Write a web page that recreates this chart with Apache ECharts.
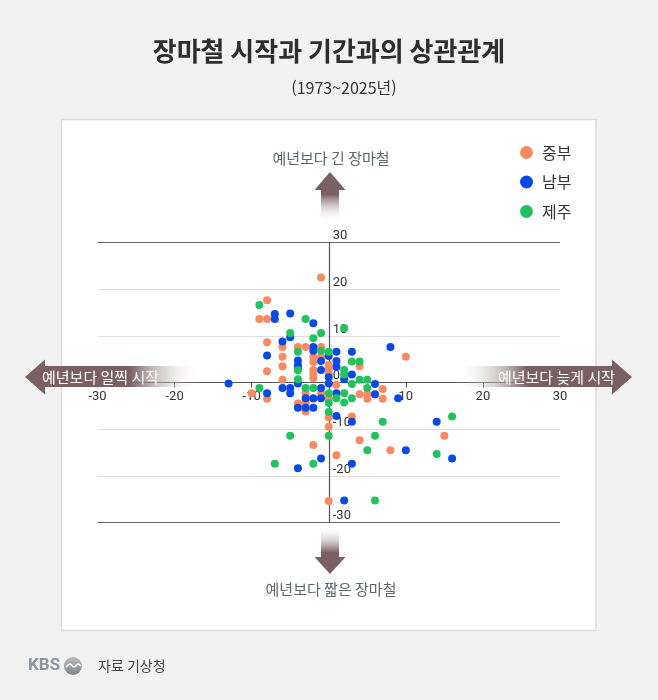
<!DOCTYPE html>
<html lang="ko">
<head>
<meta charset="utf-8">
<title>장마철 시작과 기간과의 상관관계</title>
<script src="https://cdn.jsdelivr.net/npm/echarts@6/dist/echarts.min.js"></script>
<style>
  html, body { margin: 0; padding: 0; background: #f2f2f2; }
  #chart { width: 658px; height: 700px; }
</style>
</head>
<body>
<div id="chart"></div>
<script>
var KR = '"Noto Sans CJK KR", "Noto Sans", sans-serif';
var NUM = '"Liberation Sans Narrow", Roboto, sans-serif';

// x: 장마 시작일 차이(일), y: 장마 기간 차이(일)
var seriesNames = ['중부', '남부', '제주'];
var seriesColors = ['#fa8a61', '#0b49e6', '#22c35f'];
var axisTicks = [-30, -20, -10, 0, 10, 20, 30];

var central = [
  [-1, 22.5], [-8, 17.6], [-9, 13.6], [-8, 13.6], [-8, 8.6], [-6, 7.6], [-4, 7.6], [-3, 7.6],
  [-1, 7.6], [-6, 5.5], [-2, 5.5], [-1, 5.5], [-2, 4.4], [-6, 3.5], [-8, 2.4], [-2, 2.7],
  [-2, 1.9], [-2, 0.9], [-6, 0.6], [0, 3.8], [0, 2.7], [0, 1.8], [-1, -2.3], [-10, -2.3],
  [-8, -3.5], [-3, -2.3], [-4, -4.5], [-3, -4.5], [-3, -6.2], [-2, -3.5], [0, -3.5], [0, -7.5],
  [0, -9.5], [1, -0.5], [4, 3.5], [10, 5.5], [4, -2.5], [5, -2.5], [6, -2.5], [7, -1.4],
  [7, -3.5], [5, -3.5], [3, -7.3], [15, -11.4], [-2, -13.4], [4, -12.4], [8, -14.5], [1, -15.6],
  [0, -25.4]
];
var south = [
  [-7, 14.7], [-7, 13.6], [-5, 14.8], [-2, 12.7], [-5, 9.7], [-6, 8.8], [-2, 7.6], [-2, 6.8],
  [-8, 5.8], [-4, 4.7], [-4, 3.7], [-4, 2.9], [-1, 4.6], [-1, 2.7], [0, 5.7], [1, 6.6],
  [3, 6.6], [8, 7.6], [1, 4.6], [1, 3.4], [3, 1.7], [2, 0.7], [0, 1.1], [0, -0.2],
  [-4, -0.2], [-13, -0.2], [-6, -1.2], [-5, -1.2], [-5, -2.3], [-8, -2.3], [-1, -1.2], [-3, -3.4],
  [-2, -3.4], [-1, -3.4], [-4, -5.4], [-3, -5.4], [-2, -5.4], [1, -2.3], [6, -0.3], [6, -2.5],
  [9, -3.4], [1, -7.2], [3, -8.4], [14, -8.4], [10, -14.5], [16, -16.3], [-1, -16.3], [3, -17.4],
  [-4, -18.4], [2, -25.3]
];
var jeju = [
  [-9, 16.6], [-3, 13.6], [-5, 10.6], [-2, 9.5], [-1, 10.6], [2, 11.6], [-4, 6.6], [-1, 6.8],
  [0, 6.6], [-4, 2.6], [-4, 0.7], [-9, -1.2], [-3, -1.2], [-2, -1.2], [2, 2.7], [2, 1.7],
  [3, 4.5], [4, 4.5], [3, -0.3], [4, 0.6], [5, 0.6], [5, -1.2], [0, -2.3], [1, -3.4],
  [3, -3.4], [2, -2.3], [2, -4.3], [0, -4.4], [0, -6.3], [0, -11.4], [7, -8.4], [16, -7.3],
  [-5, -11.4], [6, -11.4], [5, -14.5], [14, -15.3], [-2, -17.4], [-7, -17.4], [6, -25.3]
];
var seriesData = [central, south, jeju];

var GRID = { left: 97.5, right: 98, top: 242.5, bottom: 177.5 };
var gridW = 658 - GRID.left - GRID.right;
var gridH = 700 - GRID.top - GRID.bottom;

var ARROW = '#7b6062';
var FADE = 'rgba(255,255,255,0)';

function grad(x0, y0, x1, y1, solidTo) {
  return new echarts.graphic.LinearGradient(x0, y0, x1, y1, [
    { offset: 0, color: ARROW },
    { offset: solidTo, color: ARROW },
    { offset: 1, color: FADE }
  ]);
}

function label(text, x, y, font, fill, align) {
  return {
    type: 'text', z: 20,
    style: { text: text, x: x, y: y, font: font, fill: fill,
      textAlign: align || 'center', textVerticalAlign: 'middle' }
  };
}

var chart = echarts.init(document.getElementById('chart'));

chart.setOption({
  backgroundColor: '#f2f2f2',
  animation: false,
  grid: GRID,
  legend: {
    data: seriesNames,
    orient: 'vertical',
    left: 515, top: 139,
    icon: 'circle',
    itemWidth: 13, itemHeight: 13,
    itemGap: 12.5,
    textStyle: { fontFamily: KR, fontSize: 16, color: '#333', lineHeight: 17, padding: [0, 0, 0, 4] }
  },
  xAxis: {
    type: 'value',
    min: axisTicks[0], max: axisTicks[axisTicks.length - 1], interval: 10,
    position: 'bottom',
    offset: -gridH / 2,
    axisLine: { onZero: false, lineStyle: { color: '#555', width: 1.2 } },
    axisTick: { show: true, length: 5, lineStyle: { color: '#555' } },
    axisLabel: {
      margin: 8, fontFamily: NUM, fontSize: 13, color: '#333',
      formatter: function (v) { return v === 0 ? '' : String(v); }
    },
    splitLine: { show: false }
  },
  yAxis: {
    type: 'value',
    min: axisTicks[0], max: axisTicks[axisTicks.length - 1], interval: 10,
    position: 'left',
    offset: -gridW / 2,
    axisLine: { onZero: false, lineStyle: { color: '#555', width: 1.2 } },
    axisTick: { show: false },
    axisLabel: {
      inside: true, margin: 4, verticalAlign: 'bottom',
      fontFamily: NUM, fontSize: 13, color: '#333'
    },
    splitLine: {
      show: true,
      lineStyle: { width: 1.2, color: ['#666', '#dedede', '#dedede', '#dedede', '#dedede', '#dedede', '#666'] }
    }
  },
  series: seriesNames.map(function (name, i) {
    return {
      name: name, type: 'scatter', symbol: 'circle', symbolSize: 8,
      itemStyle: { color: seriesColors[i], opacity: 1 },
      data: seriesData[i]
    };
  }),
  graphic: [
    // 흰 패널
    { type: 'rect', z: -10, silent: true,
      shape: { x: 61.5, y: 119.5, width: 534.5, height: 511 },
      style: { fill: '#fff', stroke: '#dcdcdc', lineWidth: 1.5 } },
    // 제목
    label('장마철 시작과 기간과의 상관관계', 329, 51, 'bold 26px ' + KR, '#2e2e2e'),
    label('(1973~2025년)', 344, 88, '16px ' + KR, '#333'),
    // 위 화살표
    { type: 'polygon', z: 10, silent: true,
      shape: { points: [[330, 172], [345.5, 190], [339, 190], [339, 222], [321, 222], [321, 190], [314.5, 190]] },
      style: { fill: grad(0, 0, 0, 1, 0.45) } },
    label('예년보다 긴 장마철', 331, 158, '15px ' + KR, '#5c686e'),
    // 아래 화살표
    { type: 'polygon', z: 10, silent: true,
      shape: { points: [[330, 574], [345.5, 557], [339, 557], [339, 526], [321, 526], [321, 557], [314.5, 557]] },
      style: { fill: grad(0, 1, 0, 0, 0.45) } },
    label('예년보다 짧은 장마철', 331, 589, '15px ' + KR, '#5c686e'),
    // 왼쪽 화살표
    { type: 'polygon', z: 10, silent: true,
      shape: { points: [[25, 377], [45, 359.5], [45, 366], [200, 366], [200, 387], [45, 387], [45, 394.5]] },
      style: { fill: grad(0, 0, 1, 0, 0.6) } },
    label('예년보다 일찍 시작', 42, 377, '15px ' + KR, '#fff', 'left'),
    // 오른쪽 화살표
    { type: 'polygon', z: 10, silent: true,
      shape: { points: [[632, 377], [612, 359.5], [612, 366], [457, 366], [457, 387], [612, 387], [612, 394.5]] },
      style: { fill: grad(1, 0, 0, 0, 0.6) } },
    label('예년보다 늦게 시작', 615, 377, '15px ' + KR, '#fff', 'right'),
    // 하단 출처
    label('KBS', 28, 666, 'bold 17px ' + NUM, '#8d939a', 'left'),
    { type: 'circle', z: 20, silent: true,
      shape: { cx: 73, cy: 666, r: 9 },
      style: { fill: new echarts.graphic.LinearGradient(0, 0, 0, 1, [
        { offset: 0, color: '#b9bdc2' }, { offset: 1, color: '#80868c' }]) } },
    { type: 'polyline', z: 21, silent: true,
      shape: { points: [[66, 667], [70, 664], [74, 667], [78, 664], [81, 666]], smooth: 0.4 },
      style: { stroke: '#fff', lineWidth: 1.6, fill: null } },
    label('자료 기상청', 98, 666, '14px ' + KR, '#444', 'left')
  ]
});
</script>
</body>
</html>
